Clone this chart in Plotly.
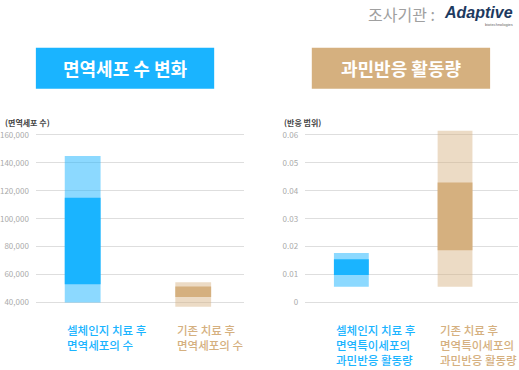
import plotly.graph_objects as go

# ---- data ----
cells_categories = ["셀체인지 치료 후<br>면역세포의 수", "기존 치료 후<br>면역세포의 수"]
cells_range_low = [40000, 37000]
cells_range_high = [145000, 54500]
cells_core_low = [53000, 44000]
cells_core_high = [115000, 51500]

react_categories = ["셀체인지 치료 후<br>면역특이세포의<br>과민반응 활동량", "기존 치료 후<br>면역특이세포의<br>과민반응 활동량"]
react_range_low = [0.0056, 0.0056]
react_range_high = [0.0177, 0.0615]
react_core_low = [0.0098, 0.0187]
react_core_high = [0.0155, 0.0430]

cells_ticks = [40000, 60000, 80000, 100000, 120000, 140000, 160000]
cells_ticktext = ["40,000", "60,000", "80,000", "100,000", "120,000", "140,000", "160,000"]
react_ticks = [0, 0.01, 0.02, 0.03, 0.04, 0.05, 0.06]
react_ticktext = ["0", "0.01", "0.02", "0.03", "0.04", "0.05", "0.06"]

BLUE = "#1ab4ff"
BLUE_L = "rgba(26,180,255,0.5)"
TAN = "#d5b07f"
TAN_L = "rgba(213,176,127,0.45)"
colors_core = [BLUE, TAN]
colors_range = [BLUE_L, TAN_L]
FONT = "Noto Sans CJK KR"

fig = go.Figure()

def add_bars(cats, lo, hi, clo, chi, xa, ya, width):
    idx = list(range(len(cats)))
    fig.add_trace(go.Bar(x=idx, y=[h - l for h, l in zip(hi, lo)], base=lo,
                         marker=dict(color=colors_range, line=dict(width=0)),
                         width=width, xaxis=xa, yaxis=ya, hoverinfo="skip", showlegend=False))
    fig.add_trace(go.Bar(x=idx, y=[h - l for h, l in zip(chi, clo)], base=clo,
                         marker=dict(color=colors_core, line=dict(width=0)),
                         width=width, xaxis=xa, yaxis=ya, hoverinfo="skip", showlegend=False))

add_bars(cells_categories, cells_range_low, cells_range_high, cells_core_low, cells_core_high, "x", "y", 0.324)
add_bars(react_categories, react_range_low, react_range_high, react_core_low, react_core_high, "x2", "y2", 0.336)

ydom = [0.16784, 0.65216]
axis_common = dict(showgrid=True, gridcolor="#dedede", gridwidth=1.2, zeroline=False,
                   showline=False, ticks="", tickfont=dict(family=FONT, size=8, color="#aaaaaa"),
                   ticklabelstandoff=6)
fig.update_layout(
    width=519, height=370, margin=dict(l=0, r=0, t=0, b=0),
    paper_bgcolor="white", plot_bgcolor="white", barmode="overlay",
    font=dict(family=FONT),
    xaxis=dict(domain=[0.0655, 0.468], range=[-0.4234, 1.459], showticklabels=False,
               showgrid=False, zeroline=False, fixedrange=True),
    xaxis2=dict(domain=[0.5863, 0.998], range=[-0.446, 1.607], showticklabels=False,
                showgrid=False, zeroline=False, anchor="y2"),
    yaxis=dict(domain=ydom, range=[36000, 164000], tickvals=cells_ticks, ticktext=cells_ticktext, **axis_common),
    yaxis2=dict(domain=ydom, range=[-0.002, 0.062], tickvals=react_ticks, ticktext=react_ticktext,
                anchor="x2", **axis_common),
)

ann = []
shapes = []
# title boxes
for (x0, x1, col, txt) in [(34, 213, BLUE, "면역세포 수 변화"), (311, 490, TAN, "과민반응 활동량")]:
    shapes.append(dict(type="rect", xref="paper", yref="paper", x0=x0 / 519, x1=x1 / 519,
                       y0=(370 - 88) / 370, y1=(370 - 47) / 370, fillcolor=col, line=dict(width=0)))
    ann.append(dict(xref="paper", yref="paper", x=(x0 + x1) / 2 / 519, y=(370 - 67.5) / 370,
                    text=txt, showarrow=False, font=dict(family=FONT, size=18, color="white", weight="bold"),
                    xanchor="center", yanchor="middle"))

# axis titles
ann.append(dict(xref="paper", yref="paper", x=1 / 519, y=(370 - 122) / 370, text="(면역세포 수)",
                showarrow=False, xanchor="left", yanchor="middle",
                font=dict(family=FONT, size=8, color="#444444", weight="bold")))
ann.append(dict(xref="paper", yref="paper", x=281 / 519, y=(370 - 122) / 370, text="(반응 범위)",
                showarrow=False, xanchor="left", yanchor="middle",
                font=dict(family=FONT, size=8, color="#444444", weight="bold")))

# category labels
for cats, xa, w in [(cells_categories, "x", 0.324), (react_categories, "x2", 0.336)]:
    for i, c in enumerate(cats):
        ann.append(dict(xref=xa, yref="paper", x=i - w / 2, y=(370 - 320) / 370, text=c,
                        showarrow=False, xanchor="left", yanchor="top", align="left",
                        font=dict(family=FONT, size=11.5, color=colors_core[i], weight=500)))

# header
ann.append(dict(xref="paper", yref="paper", x=437 / 519, y=(370 - 13) / 370, text="조사기관 :",
                showarrow=False, xanchor="right", yanchor="middle",
                font=dict(family=FONT, size=16, color="#a0a0a0")))
ann.append(dict(xref="paper", yref="paper", x=515 / 519, y=(370 - 12) / 370, text="<b><i>Adaptive</i></b>",
                showarrow=False, xanchor="right", yanchor="middle",
                font=dict(family="Liberation Sans", size=16, color="#1d3a5f")))
ann.append(dict(xref="paper", yref="paper", x=515 / 519, y=(370 - 23.5) / 370, text="biotechnologies",
                showarrow=False, xanchor="right", yanchor="middle",
                font=dict(family="Liberation Sans", size=4, color="#666666")))

fig.update_layout(annotations=ann, shapes=shapes)
fig.write_html("out.html", config={"displayModeBar": False},
               post_script="document.body.style.margin='0';document.body.style.padding='0';")
